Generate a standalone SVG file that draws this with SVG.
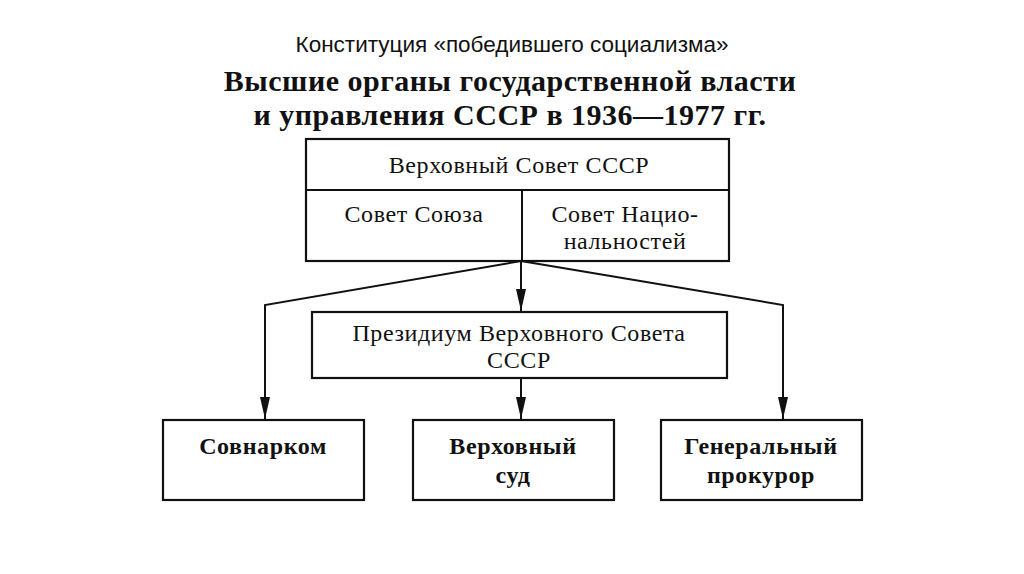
<svg xmlns="http://www.w3.org/2000/svg" width="1024" height="574" viewBox="0 0 1024 574">
<defs>
<style>
.b{fill:#fff;stroke:#111;stroke-width:2.2}
.t{font-family:"Liberation Serif",serif;font-size:24px;letter-spacing:0.6px;fill:#111;text-anchor:middle}
.k{font-weight:bold}
.c{fill:none;stroke:#111;stroke-width:2}
</style>
<marker id="a" markerWidth="22" markerHeight="10" refX="22" refY="5" orient="auto" markerUnits="userSpaceOnUse" viewBox="0 0 22 10">
<path d="M0,0 L22,5 L0,10 Z" fill="#111"/>
</marker>
</defs>
<rect width="1024" height="574" fill="#fff"/>
<text x="512" y="52" font-family="Liberation Sans, sans-serif" font-size="22.5" text-anchor="middle" fill="#111">Конституция «победившего социализма»</text>
<text x="510" y="91" font-family="Liberation Serif, serif" font-size="30" font-weight="bold" letter-spacing="0.5" text-anchor="middle" fill="#111">Высшие органы государственной власти</text>
<text x="510" y="125" font-family="Liberation Serif, serif" font-size="30" font-weight="bold" letter-spacing="0.5" text-anchor="middle" fill="#111">и управления СССР в 1936—1977 гг.</text>
<g id="vs">
<rect class="b" x="306" y="139" width="423" height="122"/>
<line class="c" x1="306" y1="190" x2="729" y2="190"/>
<line class="c" x1="522" y1="190" x2="522" y2="261"/>
<text class="t" x="519" y="173">Верховный Совет СССР</text>
<text class="t" x="414" y="222">Совет Союза</text>
<text class="t" x="625" y="222">Совет Нацио-</text>
<text class="t" x="625" y="249">нальностей</text>
</g>
<g id="pr">
<rect class="b" x="312" y="312" width="415" height="66"/>
<text class="t" x="519" y="341">Президиум Верховного Совета</text>
<text class="t" x="519" y="368">СССР</text>
</g>
<g id="snk"><rect class="b" x="163" y="420" width="201" height="80"/><text class="t k" x="263" y="454">Совнарком</text></g>
<g id="vsud"><rect class="b" x="413" y="420" width="201" height="80"/><text class="t k" x="513" y="454">Верховный</text><text class="t k" x="513" y="483">суд</text></g>
<g id="gp"><rect class="b" x="661" y="420" width="201" height="80"/><text class="t k" x="761" y="454">Генеральный</text><text class="t k" x="761" y="483">прокурор</text></g>
<g id="conn">
<polyline class="c" points="521,261 265,305 265,419" marker-end="url(#a)"/>
<polyline class="c" points="521,261 783,305 783,419" marker-end="url(#a)"/>
<line class="c" x1="521" y1="261" x2="521" y2="311" marker-end="url(#a)"/>
<line class="c" x1="521" y1="378" x2="521" y2="419" marker-end="url(#a)"/>
</g>
</svg>
